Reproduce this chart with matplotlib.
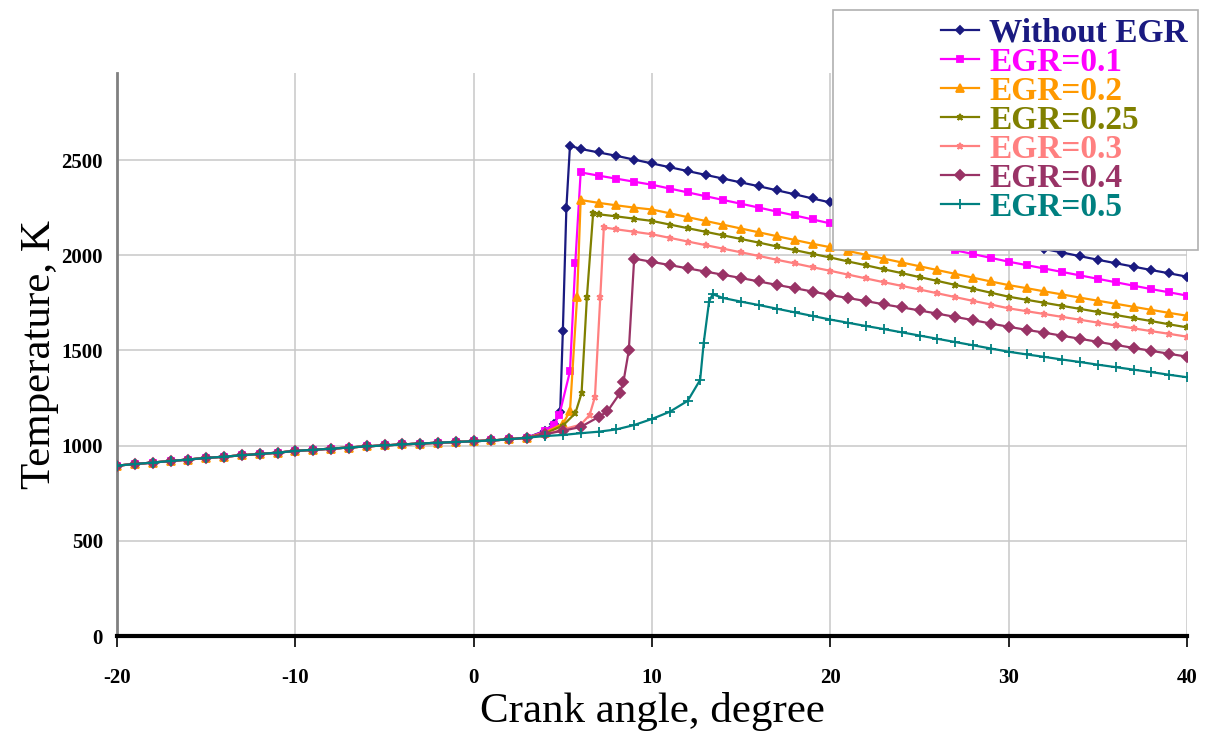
import matplotlib
matplotlib.use("Agg")
import matplotlib.pyplot as plt
from matplotlib.patches import Rectangle

plt.rcParams["font.family"] = ["Liberation Serif", "DejaVu Serif"]
plt.rcParams["axes.unicode_minus"] = False

# compression part, shared by all cases (crank angle deg, K)
ca_comp = list(range(-20, 4))
t_comp = [895, 903, 911, 919, 927, 935, 942, 949, 956, 963, 972, 978,
          984, 990, 996, 1001, 1006, 1011, 1015, 1019, 1023, 1027, 1033, 1042]

ca_tail = list(range(7, 41))  # common expansion angles from 7 deg (or later)

ca_noegr = [4, 4.5, 4.85, 5.0, 5.2, 5.4, 6] + ca_tail
t_noegr = [1078, 1115, 1175, 1600, 2250, 2575, 2558,
           2540, 2522, 2502, 2482, 2462, 2442, 2422, 2402, 2382, 2362, 2341, 2320,
           2298, 2277, 2256, 2236, 2215, 2195, 2174, 2154, 2133, 2112, 2092, 2071,
           2052, 2033, 2014, 1995, 1976, 1958, 1940, 1922, 1905, 1887]

ca_01 = [4, 4.5, 4.8, 5.4, 5.7, 6.0] + ca_tail
t_01 = [1075, 1110, 1160, 1390, 1960, 2435,
        2418, 2402, 2386, 2370, 2350, 2330, 2310, 2290, 2270, 2250, 2229, 2209,
        2188, 2167, 2147, 2127, 2106, 2086, 2066, 2046, 2026, 2006, 1986, 1966,
        1948, 1930, 1912, 1894, 1876, 1858, 1840, 1822, 1805, 1788]

ca_02 = [4, 5, 5.4, 5.8, 6.0] + ca_tail
t_02 = [1068, 1115, 1180, 1780, 2290,
        2275, 2262, 2250, 2240, 2220, 2200, 2180, 2160, 2140, 2120, 2100, 2080,
        2060, 2042, 2022, 2002, 1982, 1962, 1942, 1922, 1902, 1882, 1862, 1843,
        1827, 1810, 1794, 1777, 1761, 1745, 1729, 1713, 1697, 1682]

ca_025 = [4, 5, 5.7, 6.05, 6.35, 6.7] + ca_tail
t_025 = [1063, 1105, 1170, 1275, 1780, 2222,
         2215, 2204, 2192, 2180, 2161, 2142, 2123, 2104, 2085, 2066, 2046, 2027,
         2007, 1988, 1967, 1947, 1926, 1906, 1885, 1865, 1844, 1824, 1803, 1782,
         1766, 1750, 1734, 1718, 1702, 1686, 1670, 1654, 1637, 1621]

ca_03 = [4, 5, 6, 6.5, 6.8, 7.1, 7.3] + ca_tail[1:]
t_03 = [1058, 1085, 1110, 1160, 1255, 1780, 2146,
        2136, 2123, 2110, 2091, 2072, 2053, 2034, 2015, 1996, 1976, 1957,
        1937, 1918, 1898, 1878, 1858, 1839, 1820, 1800, 1780, 1760, 1741, 1721,
        1706, 1691, 1676, 1661, 1646, 1631, 1616, 1601, 1587, 1572]

ca_04 = [4, 5, 6, 7, 7.5, 8.2, 8.4, 8.7, 9.0] + ca_tail[3:]
t_04 = [1060, 1078, 1098, 1150, 1180, 1275, 1336, 1500, 1982,
        1965, 1948, 1931, 1914, 1897, 1880, 1862, 1844, 1827, 1809, 1791,
        1775, 1759, 1742, 1726, 1710, 1693, 1676, 1659, 1641, 1624,
        1608, 1593, 1577, 1561, 1545, 1529, 1513, 1498, 1482, 1467]

ca_05 = [4, 5, 6, 7, 8, 9, 10, 11, 12, 12.7, 12.9, 13.2, 13.4] + ca_tail[7:]
t_05 = [1050, 1056, 1065, 1073, 1085, 1108, 1140, 1178, 1235, 1345, 1540, 1756, 1795,
        1775, 1756, 1738, 1719, 1700, 1681, 1662, 1645, 1628, 1612, 1595, 1578,
        1561, 1544, 1527, 1510, 1493, 1479, 1466, 1452, 1439, 1425, 1412, 1399,
        1386, 1372, 1359]

labels = ["Without EGR", "EGR=0.1", "EGR=0.2", "EGR=0.25", "EGR=0.3", "EGR=0.4", "EGR=0.5"]
angles = [ca_noegr, ca_01, ca_02, ca_025, ca_03, ca_04, ca_05]
temps = [t_noegr, t_01, t_02, t_025, t_03, t_04, t_05]

colors = ["#1a1a80", "#ff00ff", "#ff9900", "#808000", "#ff8080", "#993366", "#008080"]
markers = ["D", "s", "^", "*", "*", "D", "+"]
msizes = [4.5, 5, 6, 5, 5, 5, 7]

fig = plt.figure(figsize=(12.06, 7.42), dpi=100)
ax = fig.add_axes([117 / 1206, 1 - 636 / 742, 1070 / 1206, 563 / 742])

for lab, ca, t, c, m, ms in zip(labels, angles, temps, colors, markers, msizes):
    x = ca_comp + ca
    y = t_comp + t
    ax.plot(x, y, color=c, lw=1.6, marker=m, ms=ms, mew=1.3, label=lab, zorder=3)

ax.set_xlim(-20, 40)
ax.set_ylim(0, 2957)
ax.set_xticks(range(-20, 41, 10))
ax.set_yticks(range(0, 2501, 500))
ax.grid(True, color="#c8c8c8", lw=1.1)
ax.set_axisbelow(True)

for s in ["top", "right"]:
    ax.spines[s].set_visible(False)
ax.spines["left"].set_color("#808080")
ax.spines["left"].set_linewidth(2)
ax.spines["bottom"].set_color("black")
ax.spines["bottom"].set_linewidth(3)

ax.tick_params(axis="x", length=8, width=1.2, direction="out", pad=15, labelsize=15)
ax.tick_params(axis="y", length=0, pad=10, labelsize=15)
for lbl in ax.get_xticklabels() + ax.get_yticklabels():
    lbl.set_fontweight("bold")

ax.set_xlabel("Crank angle, degree", fontsize=31, labelpad=3)
ax.set_ylabel("Temperature, K", fontsize=31, labelpad=2)

# legend frame sticking out above the plot
fig.patches.append(Rectangle((833 / 1206, 1 - 250 / 742), 365 / 1206, 240 / 742,
                             transform=fig.transFigure, facecolor="white",
                             edgecolor="#b0b0b0", lw=1.2, zorder=4))

handles, labs = ax.get_legend_handles_labels()
leg = fig.legend(handles, labs, loc="upper left",
                 bbox_to_anchor=(924 / 1206, 1 - 1 / 742),
                 frameon=False, numpoints=1, labelspacing=-0.06,
                 handlelength=1.15, handletextpad=0.3, borderpad=0,
                 prop={"weight": "bold", "size": 24})
leg.set_zorder(5)
for txt, c in zip(leg.get_texts(), colors):
    txt.set_color(c)

fig.savefig("out.png", dpi=100)
